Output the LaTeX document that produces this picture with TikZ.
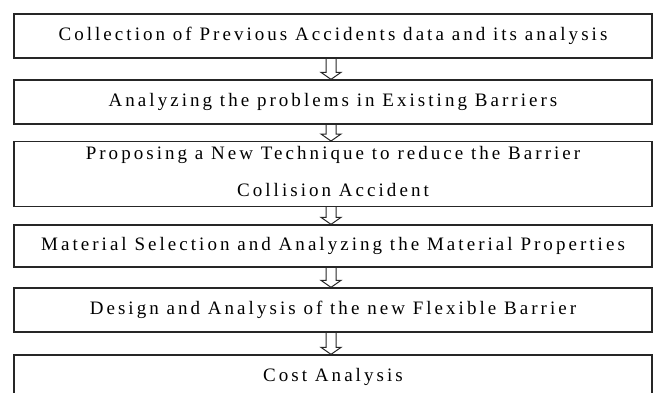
\documentclass[tikz,border=0pt]{standalone}
\usepackage{fontspec}
\setmainfont{Liberation Serif}[LetterSpace=16]
\usetikzlibrary{calc,positioning}

\begin{document}
\begin{tikzpicture}[font=\fontsize{19pt}{23pt}\selectfont]
\tikzset{
    %Define style for boxes
    stage/.style={
           rectangle,
           draw=black!85, line width=1.3pt,
           minimum width=638pt,
           minimum height=44pt,
           text height=13pt,
           text depth=5pt,
           align=center},
    % Define hollow arrow style
    pil/.style={
           draw=black!85, line width=1pt,
           to path={let \p1=(\tikztostart), \p2=(\tikztotarget) in
              ({\x1-5pt},\y1) -- ({\x1-5pt},{\y2+7pt}) -- ({\x1-10pt},{\y2+7pt})
              -- (\x1,\y2) -- ({\x1+10pt},{\y2+7pt}) -- ({\x1+5pt},{\y2+7pt})
              -- ({\x1+5pt},\y1)}}
}
	\useasboundingbox (0,0) rectangle (655pt,-392pt);
	\clip (0,0) rectangle (655pt,-392pt);
 %nodes

	\node[stage] (collect) at (333pt,-36pt) {Collection of Previous Accidents data and its analysis};

	\node[stage] (problems) at (333pt,-102pt) {Analyzing the problems in Existing Barriers};

	\node[stage,minimum height=60pt,text height=51pt,text depth=7pt] (propose) at (333pt,-174pt) {Proposing a New Technique to reduce the Barrier\\[14pt] Collision Accident};

	\node[stage,minimum height=42pt] (material) at (333pt,-246pt) {Material Selection and Analyzing the Material Properties};

	\node[stage] (design) at (333pt,-310pt) {Design and Analysis of the new Flexible Barrier};

	\node[stage] (cost) at (333pt,-377pt) {Cost Analysis};

	\path ([xshift=-2pt]collect.south) edge[pil] ([xshift=-2pt]problems.north);
	\path ([xshift=-2pt]problems.south) edge[pil] ([xshift=-2pt]propose.north);
	\path ([xshift=-2pt]propose.south) edge[pil] ([xshift=-2pt]material.north);
	\path ([xshift=-2pt]material.south) edge[pil] ([xshift=-2pt]design.north);
	\path ([xshift=-2pt]design.south) edge[pil] ([xshift=-2pt]cost.north);

\end{tikzpicture}
\end{document}
